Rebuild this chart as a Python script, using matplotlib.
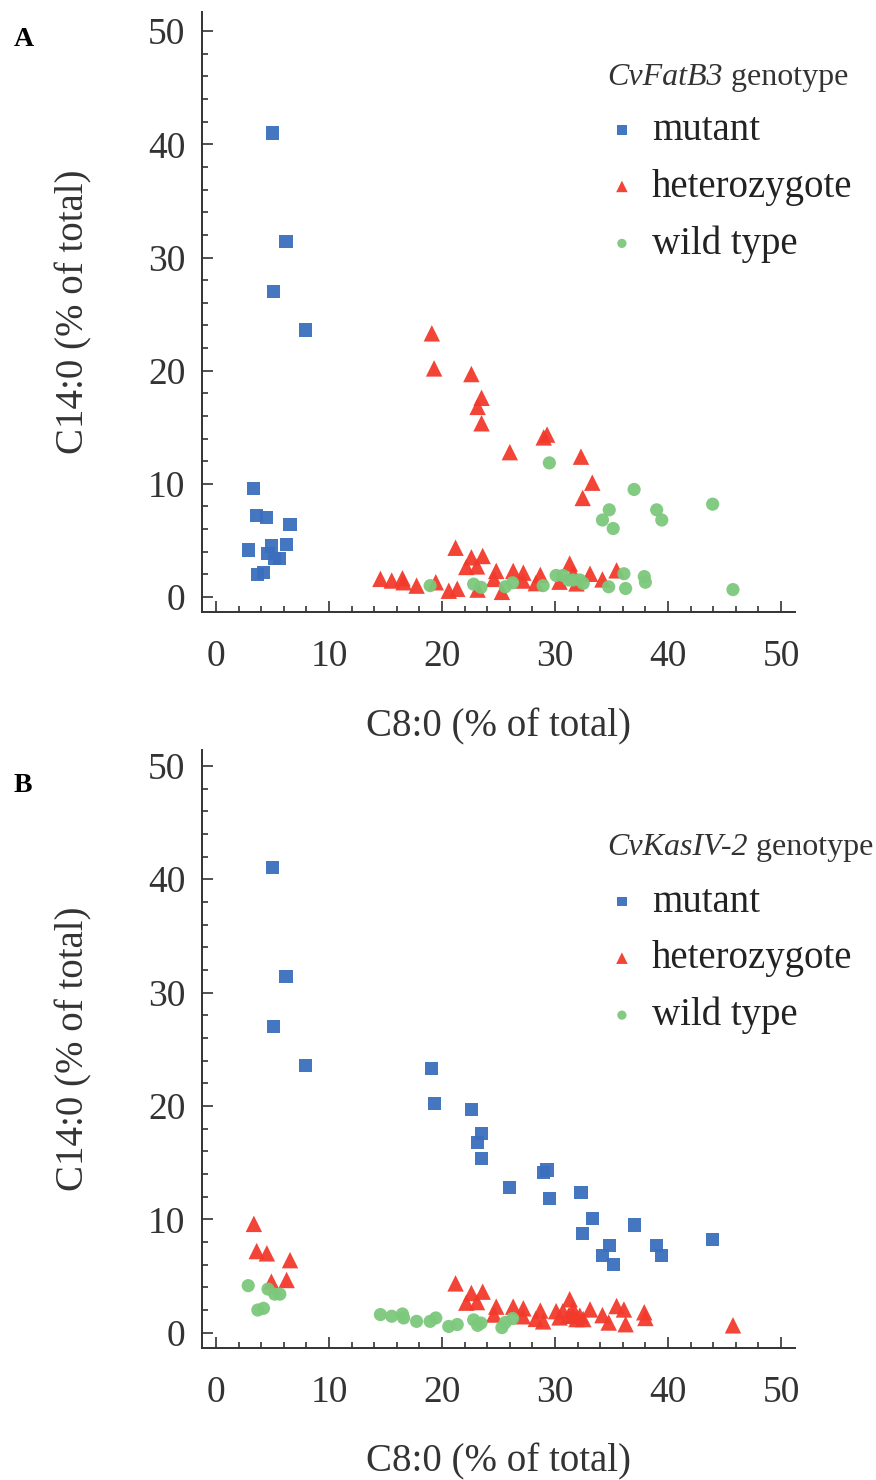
import matplotlib
matplotlib.use("Agg")
import matplotlib.pyplot as plt
from matplotlib.ticker import MultipleLocator

plt.rcParams["font.family"] = ["Liberation Serif", "DejaVu Serif"]

# one row per plant: C8:0, C14:0 and its genotype at the two loci
# M = mutant, H = heterozygote, W = wild type
c8 = [5.0, 6.2, 5.1, 7.9, 3.35, 3.6, 4.5, 6.55, 2.85, 4.9, 6.25, 4.6, 5.65, 5.2, 3.7, 4.2,
      19.1, 19.3, 22.6, 23.5, 23.15, 23.5, 26.0, 29.0, 29.3, 32.3, 33.3, 32.45,
      29.5, 37.0, 43.95, 34.8, 34.2, 35.15, 39.0, 39.45, 45.75,
      14.55, 15.55, 16.5, 16.6, 17.75, 19.45, 18.95, 20.6, 21.35,
      21.2, 22.15, 22.6, 23.1, 23.6, 22.8, 23.15, 23.45, 24.8, 24.6,
      25.3, 25.6, 26.25, 26.3, 27.2, 27.15, 28.7, 28.3, 28.95, 30.4,
      30.1, 30.7, 31.2, 31.6, 32.2, 32.5, 31.3, 31.6, 31.9, 33.1,
      34.2, 35.45, 34.75, 36.1, 36.25, 37.9, 38.0]
c14 = [41.0, 31.4, 27.0, 23.6, 9.6, 7.2, 7.0, 6.4, 4.15, 4.5, 4.65, 3.85, 3.4, 3.4, 2.0, 2.15,
       23.3, 20.2, 19.7, 17.6, 16.8, 15.35, 12.8, 14.1, 14.35, 12.4, 10.1, 8.75,
       11.85, 9.5, 8.2, 7.7, 6.8, 6.05, 7.7, 6.8, 0.65,
       1.6, 1.45, 1.65, 1.3, 1.0, 1.3, 1.0, 0.55, 0.72,
       4.35, 2.65, 3.5, 2.7, 3.62, 1.13, 0.65, 0.85, 2.3, 1.6,
       0.45, 0.9, 1.25, 2.3, 2.15, 1.45, 1.95, 1.22, 1.0, 1.35,
       1.9, 1.9, 1.5, 1.5, 1.5, 1.2, 2.95, 2.1, 1.2, 2.05,
       1.55, 2.35, 0.9, 2.05, 0.75, 1.8, 1.3]
fatb3 = list("MMMMMMMMMMMMMMMM" + "HHHHHHHHHHHH" + "WWWWWWWWW"
             + "HHHHHHWHH" + "HHHHHWHWHH" + "HWWHHHHHWH" + "WWWWWWHHHH" + "HHWWWWW")
kasiv = list("MMMMHHHHWHHWWWWW" + "MMMMMMMMMMMM" + "MMMMMMMMH"
             + "WWWWWWWWW" + "HHHHHWWWHH" + "WWWHHHHHHH" + "HHHHHHHHHH" + "HHHHHHH")

names = {"M": "mutant", "H": "heterozygote", "W": "wild type"}
markers = {"M": "s", "H": "^", "W": "o"}
sizes = {"M": 90, "H": 140, "W": 90}
colors = {"M": "#3b6fbd", "H": "#f23a2c", "W": "#7cc87c"}

fig = plt.figure(figsize=(8.76, 14.8), dpi=100)
ax_a = fig.add_axes([202 / 876, 1 - 612 / 1480, 593 / 876, 600 / 1480])
ax_b = fig.add_axes([202 / 876, 1 - 1348 / 1480, 593 / 876, 598 / 1480])

# axes, genotype column, gene name, panel letter, y limits, title baseline, legend top
panels = [
    (ax_a, fatb3, "CvFatB3", "A", (-1.33, 51.7), 0.878, 0.833),
    (ax_b, kasiv, "CvKasIV-2", "B", (-1.35, 51.4), 0.824, 0.776),
]

for ax, geno, gene, letter, ylim, title_y, leg_y in panels:
    handles = []
    for g in ["M", "H", "W"]:
        xs = [x for x, k in zip(c8, geno) if k == g]
        ys = [y for y, k in zip(c14, geno) if k == g]
        h = ax.scatter(xs, ys, marker=markers[g], s=sizes[g], color=colors[g],
                       edgecolors="none", alpha=0.95, label=names[g])
        handles.append(h)

    ax.set_xlim(-1.24, 51.24)
    ax.set_ylim(*ylim)
    for side in ["top", "right"]:
        ax.spines[side].set_visible(False)
    for side in ["left", "bottom"]:
        ax.spines[side].set_linewidth(1.4)
        ax.spines[side].set_color("#333333")

    ax.xaxis.set_major_locator(MultipleLocator(10))
    ax.xaxis.set_minor_locator(MultipleLocator(2))
    ax.yaxis.set_major_locator(MultipleLocator(10))
    ax.yaxis.set_minor_locator(MultipleLocator(2))
    ax.tick_params(which="both", direction="in", color="#333333", width=1.2)
    ax.tick_params(which="major", length=8, labelsize=27, labelcolor="#333333")
    ax.tick_params(which="minor", length=4)
    ax.tick_params(axis="x", which="major", pad=20)
    ax.tick_params(axis="y", which="major", pad=12)

    ax.set_xlabel("C8:0 (% of total)", fontsize=28, color="#333333")
    ax.xaxis.set_label_coords(0.5, -0.16)
    ax.set_ylabel("C14:0 (% of total)", fontsize=28, color="#333333")
    ax.yaxis.set_label_coords(-0.185, 0.5)

    # legend title: italic gene name followed by plain "genotype"
    t = ax.text(0.683, title_y, gene, transform=ax.transAxes, fontsize=23,
                fontstyle="italic", color="#333333", va="baseline")
    ax.annotate(" genotype", xy=(1, 0), xycoords=t, fontsize=23,
                color="#333333", va="bottom")

    leg = ax.legend(handles=handles, loc="upper left",
                    bbox_to_anchor=(0.695, leg_y), frameon=False, fontsize=28,
                    handlelength=0.4, handletextpad=0.57, labelspacing=0.5,
                    markerscale=0.7, borderpad=0, borderaxespad=0)
    for txt in leg.get_texts():
        txt.set_color("#222222")

fig.text(14 / 876, 1 - 40 / 1480, "A", fontsize=20, fontweight="bold", va="center")
fig.text(14 / 876, 1 - 785 / 1480, "B", fontsize=20, fontweight="bold", va="center")

fig.savefig("out.png", dpi=100)
